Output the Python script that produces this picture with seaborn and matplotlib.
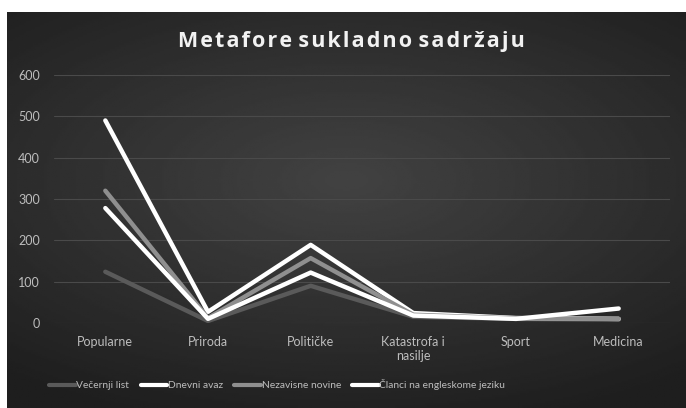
import matplotlib

matplotlib.use("Agg")
import matplotlib.pyplot as plt
import numpy as np
import pandas as pd
import seaborn as sns

sns.set_theme(style="dark")
plt.rcParams["font.family"] = ["Lato", "DejaVu Sans"]

# data
categories = ["Popularne", "Priroda", "Političke", "Katastrofa i\nnasilje", "Sport", "Medicina"]
vecernji_list = [124, 5, 90, 15, 10, 8]
dnevni_avaz = [490, 27, 189, 24, 12, 10]
nezavisne_novine = [320, 12, 157, 20, 11, 10]
clanci_engleski = [278, 10, 122, 18, 10, 35]

series = {
    "Večernji list": vecernji_list,
    "Dnevni avaz": dnevni_avaz,
    "Nezavisne novine": nezavisne_novine,
    "Članci na engleskome jeziku": clanci_engleski,
}
palette = {
    "Večernji list": "#5a5a5a",
    "Dnevni avaz": "#ffffff",
    "Nezavisne novine": "#8f8f8f",
    "Članci na engleskome jeziku": "#ffffff",
}

long = pd.DataFrame(
    [{"kat": i, "val": v, "izvor": name}
     for name, vals in series.items() for i, v in enumerate(vals)]
)

fig = plt.figure(figsize=(6.86, 4.08), dpi=100, facecolor="white")

# dark radial-gradient background (starts a few px in from left/top)
bg = fig.add_axes([7 / 686, 0, 1 - 7 / 686, 1 - 12 / 408], zorder=0)
yy, xx = np.mgrid[-1:1:200j, -1:1:300j]
r = np.sqrt((xx * 0.9) ** 2 + ((yy + 0.15) * 1.1) ** 2)
bg.imshow(0.26 - 0.14 * np.clip(r, 0, 1.4) / 1.4, cmap="gray", vmin=0, vmax=1,
          aspect="auto", extent=[0, 1, 0, 1])
bg.set_axis_off()

ax = fig.add_axes([54 / 686, 1 - 323 / 408, 616 / 686, 248 / 408], zorder=1)
ax.set_facecolor("none")
sns.lineplot(data=long, x="kat", y="val", hue="izvor", palette=palette,
             hue_order=list(series), lw=3.2, ax=ax, legend=False,
             solid_capstyle="round")

ax.set_xlim(-0.5, len(categories) - 0.5)
ax.set_ylim(0, 600)
ax.set_yticks(range(0, 601, 100))
ax.set_xticks(range(len(categories)))
ax.set_xticklabels(categories)
ax.tick_params(colors="#bdbdbd", labelsize=9, length=0, pad=9)
ax.tick_params(axis="y", pad=10)
ax.grid(axis="y", color="#4a4a4a", lw=0.8)
ax.grid(axis="x", visible=False)
for s in ax.spines.values():
    s.set_visible(False)
ax.set_xlabel("")
ax.set_ylabel("")

fig.text(0.512, 1 - 42 / 408, "M e t a f o r e   s u k l a d n o   s a d r ž a j u".replace(" ", "\u200a"),
         ha="center", va="center", color="#f2f2f2", fontsize=15.5, fontweight="bold",
         family=["Open Sans", "DejaVu Sans"])

handles = [plt.Line2D([], [], color=palette[n], lw=3) for n in series]
fig.legend(handles, list(series), loc="center left", bbox_to_anchor=(40 / 686, 1 - 385 / 408),
           ncol=4, frameon=False, fontsize=7.4, labelcolor="#bdbdbd",
           handlelength=2.6, handletextpad=0.05, columnspacing=1.1)

fig.savefig("out.png", dpi=100)
